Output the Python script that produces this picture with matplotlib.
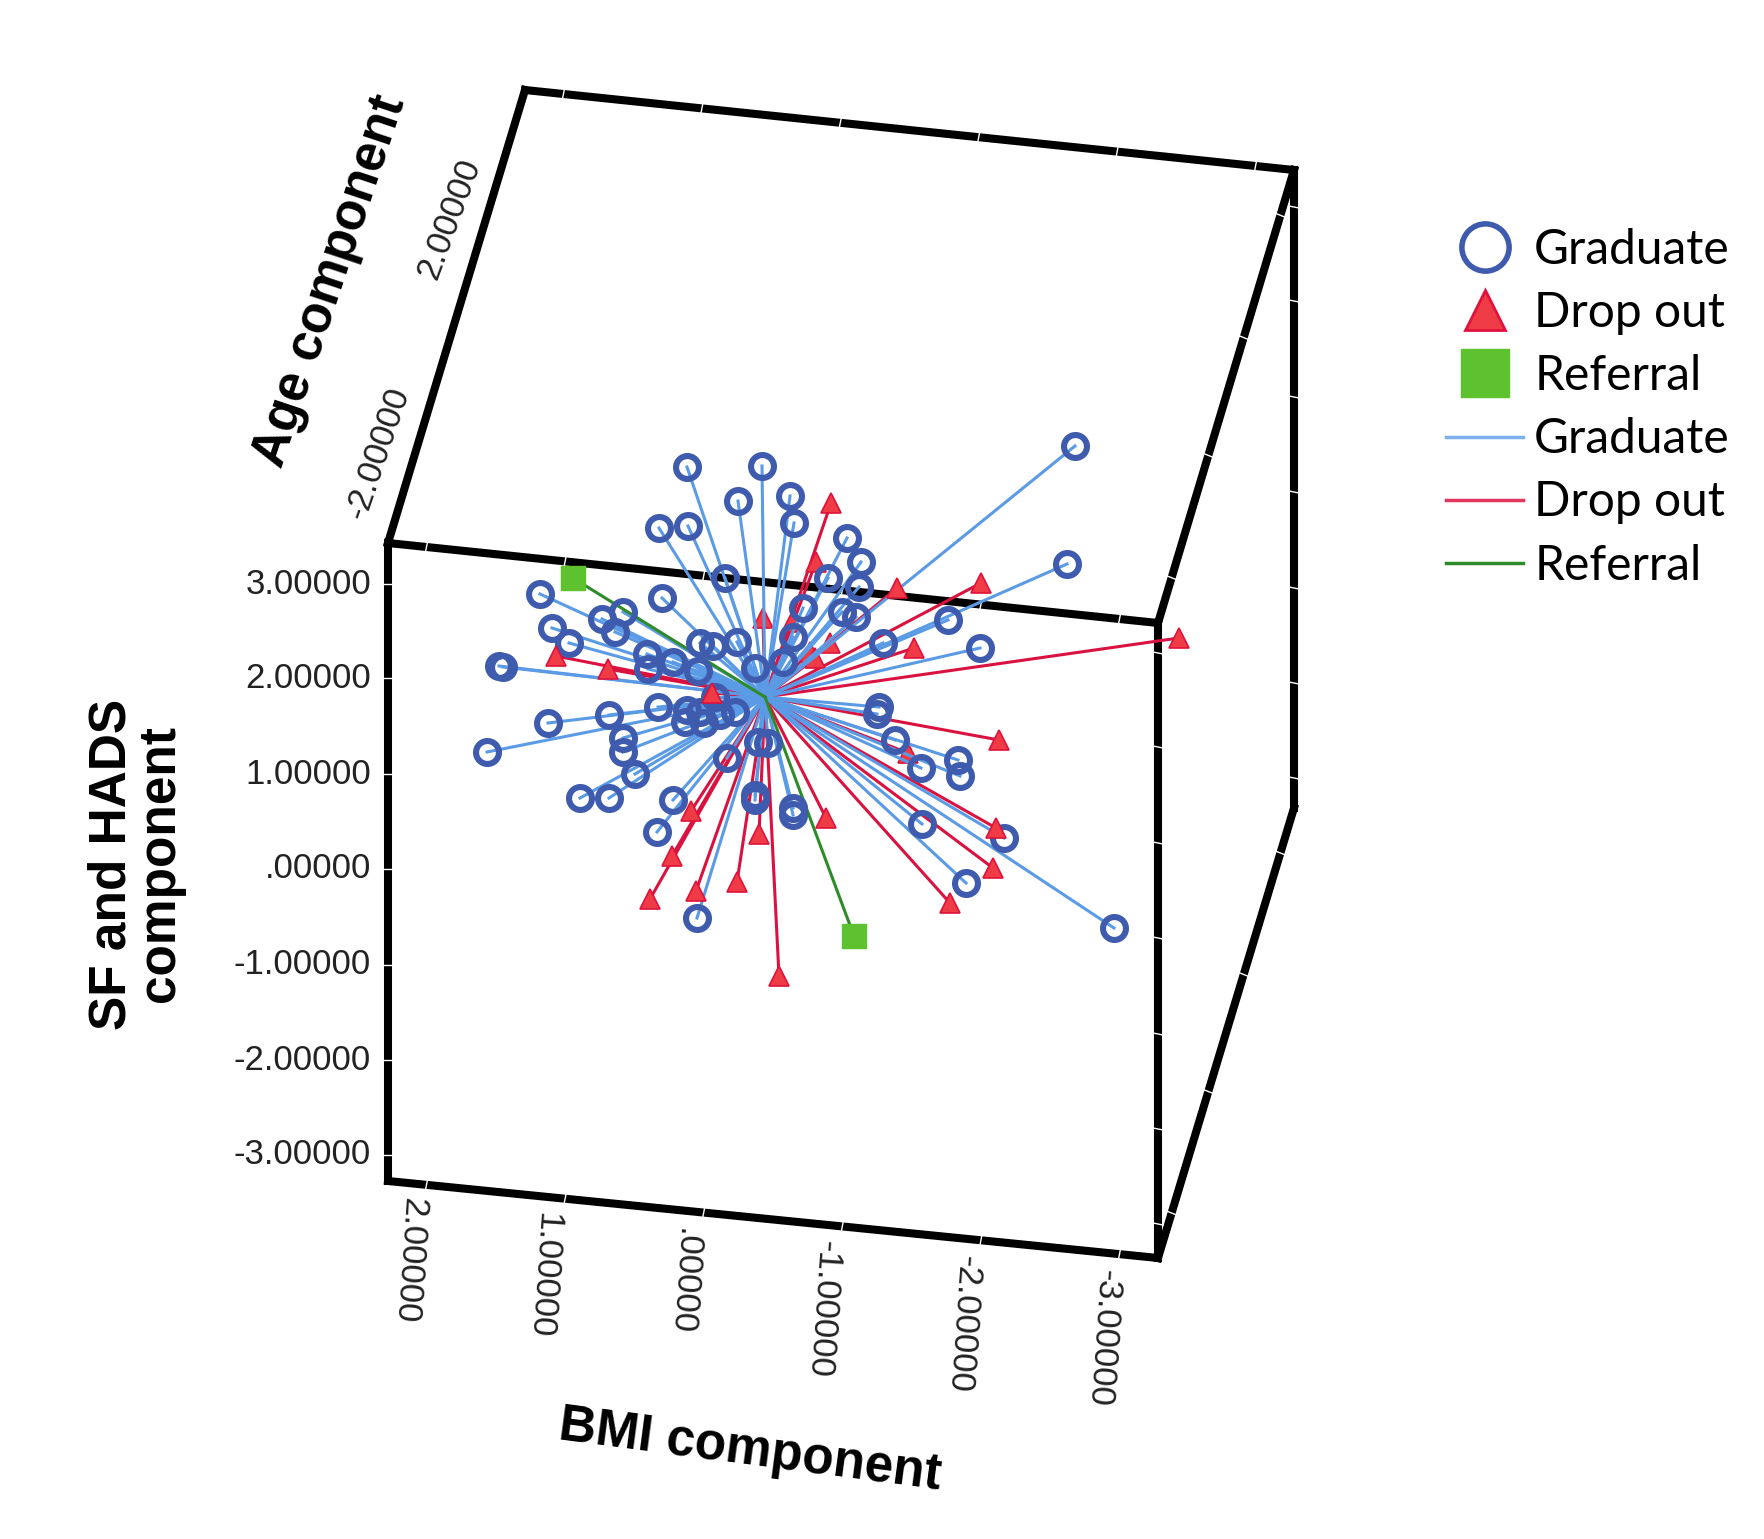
import matplotlib
matplotlib.use("Agg")
import matplotlib.pyplot as plt
from matplotlib.lines import Line2D

"""
3D cluster plot (SPSS style) redrawn on its flat projection plane.
All positions below are screen positions read from the picture.
"""

# Cluster centre all the spokes start from
centre_x = 765
centre_y = 697

# Graduate points
grad_x = [687, 762, 738, 790, 794, 659, 688, 847, 861, 828, 859, 725, 662, 540, 803, 842, 856, 602,
          623, 615, 552, 569, 499, 503, 647, 648, 673, 698, 700, 713, 737, 793, 755, 783, 883, 715,
          658, 609, 548, 687, 685, 704, 623, 623, 487, 635, 580, 609, 727, 758, 768, 673, 755, 755,
          793, 793, 657, 697, 1075, 1067, 948, 980, 879, 877, 895, 921, 958, 960, 922, 1004, 966,
          1114, 700, 720, 735]
grad_y = [467, 466, 501, 496, 523, 528, 526, 538, 562, 578, 587, 578, 598, 594, 608, 612, 617, 619,
          612, 632, 628, 643, 666, 667, 654, 669, 662, 671, 643, 646, 642, 637, 668, 662, 643, 697,
          707, 715, 723, 710, 722, 723, 738, 752, 752, 774, 798, 798, 758, 742, 743, 800, 795, 800,
          808, 815, 832, 918, 446, 564, 620, 648, 707, 714, 740, 768, 760, 776, 824, 838, 883,
          928, 712, 715, 712]

# Drop out points drawn over the graduate markers
drop_x = [831, 556, 608, 712, 897, 981, 914, 1179, 691, 672, 650, 696, 737, 759, 826, 779, 999,
          996, 993, 950]
drop_y = [503, 656, 669, 693, 588, 583, 648, 638, 811, 856, 899, 891, 882, 834, 818, 976, 740,
          828, 868, 903]

# Drop out points partly hidden behind the graduate spokes and markers
drop_back_x = [816, 763, 792, 810, 830, 815, 908]
drop_back_y = [562, 618, 622, 652, 643, 658, 753]

# Referral points
ref_x = [573, 854]
ref_y = [578, 936]

# Axis tick labels
sf_labels = ["3.00000", "2.00000", "1.00000", ".00000", "-1.00000", "-2.00000", "-3.00000"]
sf_tick_y = [584, 678, 774, 869, 965, 1060, 1155]
bmi_labels = ["2.00000", "1.00000", ".00000", "-1.00000", "-2.00000", "-3.00000"]
bmi_label_x = [409, 543, 684, 823, 963, 1103]
bmi_label_y = [1260, 1275, 1282, 1309, 1324, 1338]
bmi_tick_frac = [0.05, 0.23, 0.41, 0.59, 0.77, 0.95]

# Box corners
front_tl = (388, 543)
front_tr = (1158, 623)
front_bl = (388, 1181)
front_br = (1158, 1258)
back_tl = (525, 90)
back_tr = (1294, 170)
back_br = (1294, 808)

COL_GRAD = "#3F5BAD"
COL_GRAD_LINE = "#5B9BE6"
COL_DROP = "#EE3B45"
COL_DROP_EDGE = "#E0123C"
COL_DROP_LINE = "#D9123F"
COL_REF = "#5DC130"
COL_REF_LINE = "#2E8B2A"


def edge(a, b):
    """
    Draws one thick edge of the box.
    """
    ax.plot([a[0], b[0]], [a[1], b[1]], color="black", lw=5.8, zorder=1, solid_capstyle="projecting")


def nick(x, y, dx, dy):
    """
    Draws a small white tick across a box edge.
    """
    ax.plot([x - dx, x + dx], [y - dy, y + dy], color="white", lw=1.0, zorder=1.5)


fig = plt.figure(figsize=(17.64, 15.39), dpi=100)
ax = fig.add_axes([0, 0, 1, 1])
ax.set_xlim(0, 1764)
ax.set_ylim(1539, 0)
ax.axis("off")

# Box
for a, b in [(front_tl, front_tr), (front_tr, front_br), (front_br, front_bl), (front_bl, front_tl),
             (front_tl, back_tl), (back_tl, back_tr), (back_tr, front_tr), (back_tr, back_br),
             (back_br, front_br)]:
    edge(a, b)

# White ticks on the box edges
for f in bmi_tick_frac:
    for a, b in [(front_bl, front_br), (front_tl, front_tr), (back_tl, back_tr)]:
        nick(a[0] + f * (b[0] - a[0]), a[1] + f * (b[1] - a[1]), 1, -5)
for t in sf_tick_y:
    nick(front_bl[0], t, 5, 0)
    nick(front_br[0], t + 69, 5, 1)
    nick(back_br[0], t - 377, 5, 1)
for f in [0.1, 0.37, 0.63, 0.9]:
    for a, b in [(back_tr, front_tr), (back_br, front_br)]:
        nick(a[0] + f * (b[0] - a[0]), a[1] + f * (b[1] - a[1]), 5, 2)

# Spokes from the cluster centre
for x, y in zip(drop_x + drop_back_x, drop_y + drop_back_y):
    ax.plot([centre_x, x], [centre_y, y], color=COL_DROP_LINE, lw=2.2, zorder=2)
for x, y in zip(grad_x, grad_y):
    ax.plot([centre_x, x], [centre_y, y], color=COL_GRAD_LINE, lw=2.2, zorder=2.2)
for x, y in zip(ref_x, ref_y):
    ax.plot([centre_x, x], [centre_y, y], color=COL_REF_LINE, lw=2.2, zorder=2.4)

# Markers
ax.plot(drop_back_x, drop_back_y, "^", ms=15, mfc=COL_DROP, mec=COL_DROP_EDGE, mew=1.2, zorder=2.1, ls="none")
ax.plot(grad_x, grad_y, "o", ms=16.5, mfc="none", mec=COL_GRAD, mew=4.4, zorder=3, ls="none")
ax.plot(drop_x, drop_y, "^", ms=15, mfc=COL_DROP, mec=COL_DROP_EDGE, mew=1.2, zorder=3.2, ls="none")
ax.plot(ref_x, ref_y, "s", ms=17, mfc=COL_REF, mec=COL_REF, mew=1, zorder=3.4, ls="none")

# Axis labels and tick labels
axis_font = "Liberation Sans"
for lab, y in zip(sf_labels, sf_tick_y):
    ax.text(371, y, lab, family=axis_font, fontsize=25, ha="right", va="center", color="#222222")
for lab, x, y in zip(bmi_labels, bmi_label_x, bmi_label_y):
    ax.text(x, y, lab, family=axis_font, fontsize=25, ha="center", va="center", rotation=-94,
            rotation_mode="anchor", color="#222222")
ax.text(449, 219, "2.00000", family=axis_font, fontsize=25, ha="center", va="center", rotation=69.5,
        rotation_mode="anchor", color="#222222")
ax.text(378, 453, "-2.00000", family=axis_font, fontsize=25, ha="center", va="center", rotation=71,
        rotation_mode="anchor", color="#222222")

ax.text(330, 281, "Age component", family=axis_font, fontsize=37, fontweight="bold", ha="center",
        va="center", rotation=71.5, rotation_mode="anchor")
ax.text(750, 1451, "BMI component", family=axis_font, fontsize=37, fontweight="bold", ha="center",
        va="center", rotation=-7.5, rotation_mode="anchor")
ax.text(136, 864, "SF and HADS\ncomponent", family=axis_font, fontsize=37, fontweight="bold",
        ha="center", va="center", rotation=90, multialignment="center", linespacing=1.0)

# Legend
handles = [
    Line2D([], [], ls="none", marker="o", ms=34, mfc="none", mec=COL_GRAD, mew=4),
    Line2D([], [], ls="none", marker="^", ms=29, mfc=COL_DROP, mec=COL_DROP_EDGE, mew=2),
    Line2D([], [], ls="none", marker="s", ms=35, mfc=COL_REF, mec=COL_REF, mew=1),
    Line2D([], [], color="#7DB1EE", lw=2.5),
    Line2D([], [], color="#E2365F", lw=2.5),
    Line2D([], [], color=COL_REF_LINE, lw=2.5),
]
labels = ["Graduate", "Drop out", "Referral", "Graduate", "Drop out", "Referral"]
ax.legend(handles, labels, loc="upper left", bbox_to_anchor=(0.82, 0.852), frameon=False,
          prop={"family": "Lato", "size": 34.5}, handlelength=1.6, handletextpad=0.23,
          labelspacing=0.40, borderpad=0, borderaxespad=0)

plt.savefig("out.png", dpi=100)
